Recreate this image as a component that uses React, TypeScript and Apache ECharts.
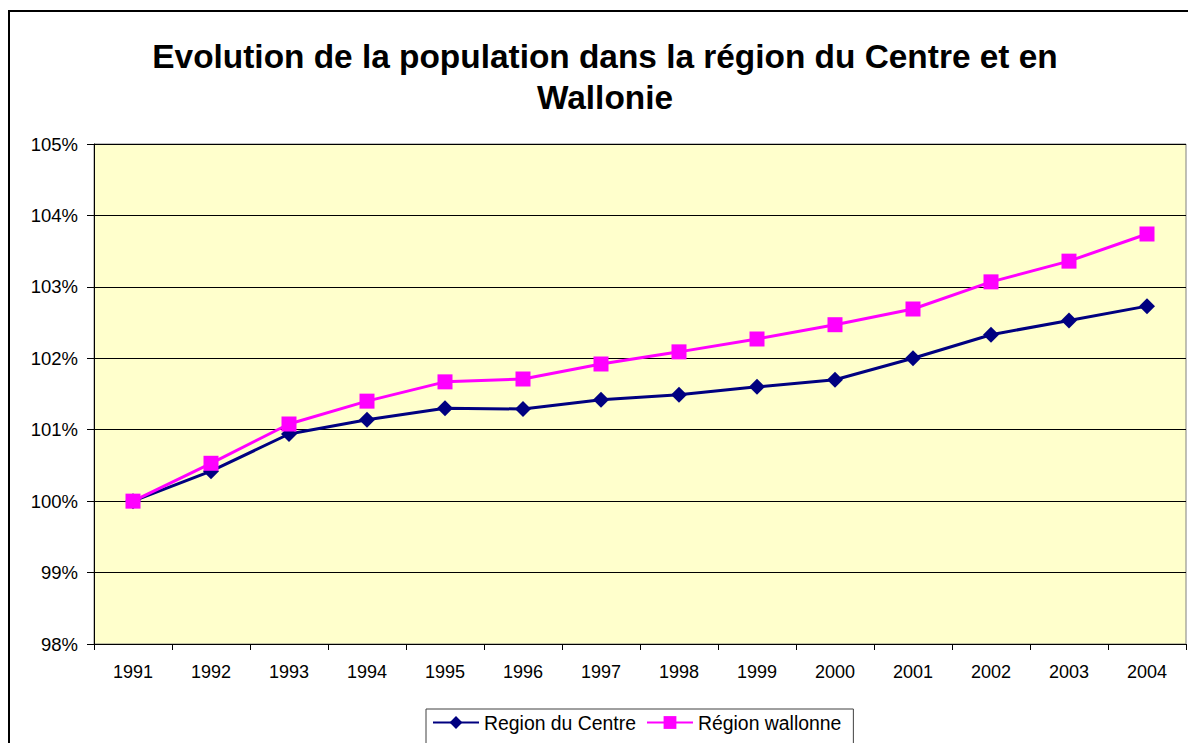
import React, { useEffect, useRef } from "react";
import * as echarts from "echarts";

const years = ["1991", "1992", "1993", "1994", "1995", "1996", "1997", "1998", "1999", "2000", "2001", "2002", "2003", "2004"];
const centre = [100.0, 100.42, 100.94, 101.14, 101.3, 101.29, 101.42, 101.49, 101.6, 101.7, 102.0, 102.33, 102.53, 102.73];
const wallonne = [100.0, 100.53, 101.08, 101.4, 101.67, 101.71, 101.92, 102.09, 102.27, 102.47, 102.69, 103.07, 103.36, 103.74];
const seriesNames = ["Region du Centre", "Région wallonne"];
const titleText = "Evolution de la population dans la région du Centre et en\nWallonie";

export default function App() {
  const ref = useRef<HTMLDivElement>(null);
  useEffect(() => {
    if (!ref.current) return;
    const chart = echarts.init(ref.current, undefined, { renderer: "svg" });
    const font = "Liberation Sans, Arial, sans-serif";
    chart.setOption({
      animation: false,
      backgroundColor: "#ffffff",
      textStyle: { fontFamily: font },
      graphic: [
        {
          type: "rect",
          shape: { x: 9, y: 11, width: 1200, height: 800 },
          style: { fill: "none", stroke: "#000", lineWidth: 2 },
          silent: true,
          z: 100,
        },
        {
          type: "text",
          x: 605,
          y: 36,
          style: {
            text: titleText,
            align: "center",
            verticalAlign: "top",
            font: `bold 33.4px ${font}`,
            lineHeight: 41,
            fill: "#000",
          },
        },
      ],
      grid: {
        left: 94,
        top: 144,
        width: 1092,
        height: 500,
        show: true,
        backgroundColor: "#FFFFCC",
        borderColor: "#808080",
        borderWidth: 1,
      },
      legend: {
        left: 426,
        top: 709,
        orient: "horizontal",
        data: seriesNames,
        itemWidth: 46,
        itemHeight: 16,
        itemGap: 10,
        padding: [4, 12, 20, 6],
        borderColor: "#404040",
        borderWidth: 1,
        backgroundColor: "#fff",
        textStyle: { fontFamily: font, fontSize: 19.4, color: "#000" },
      },
      xAxis: {
        type: "category",
        data: years,
        boundaryGap: true,
        axisLine: { show: true, lineStyle: { color: "#000", width: 1 } },
        axisTick: { show: true, alignWithLabel: false, length: 6, lineStyle: { color: "#000" } },
        axisLabel: { fontFamily: font, fontSize: 18, color: "#000", margin: 19 },
        splitLine: { show: false },
      },
      yAxis: {
        type: "value",
        min: 98,
        max: 105,
        interval: 1,
        axisLine: { show: true, lineStyle: { color: "#000", width: 1 } },
        axisTick: { show: true, length: 7, lineStyle: { color: "#000" } },
        axisLabel: {
          fontFamily: font,
          fontSize: 18.5,
          color: "#000",
          margin: 16,
          formatter: (v: number) => `${Math.round(v)}%`,
        },
        splitLine: { show: true, lineStyle: { color: "#000", width: 1 } },
      },
      series: [
        {
          name: seriesNames[0],
          type: "line",
          data: centre,
          symbol: "diamond",
          symbolSize: 16,
          itemStyle: { color: "#000080" },
          lineStyle: { color: "#000080", width: 3 },
          z: 3,
        },
        {
          name: seriesNames[1],
          type: "line",
          data: wallonne,
          symbol: "rect",
          symbolSize: 15,
          itemStyle: { color: "#FF00FF" },
          lineStyle: { color: "#FF00FF", width: 3 },
          z: 4,
        },
      ],
    });
    return () => chart.dispose();
  }, []);
  return <div ref={ref} style={{ position: "fixed", left: 0, top: 0, width: 1188, height: 743 }} />;
}
